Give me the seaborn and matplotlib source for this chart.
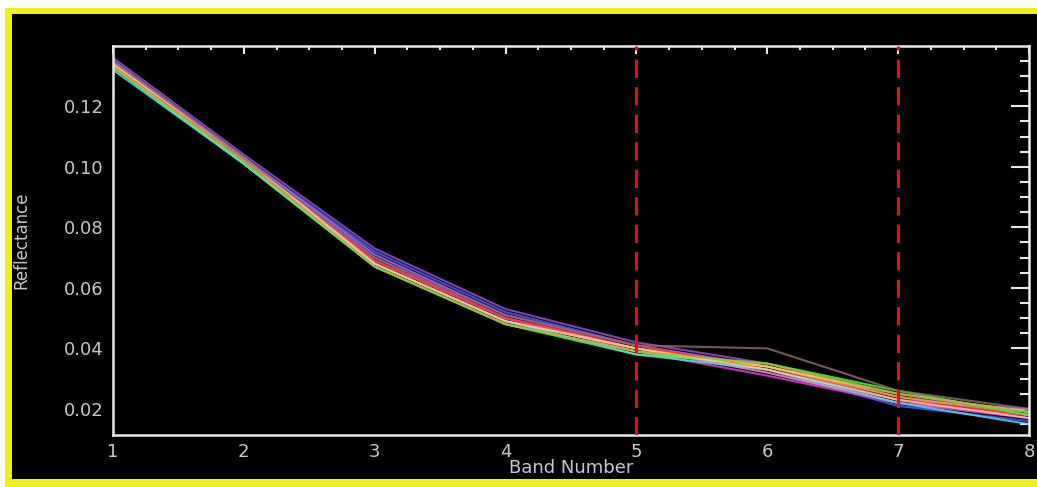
import matplotlib
matplotlib.use("Agg")
import matplotlib.pyplot as plt
from matplotlib.patches import Rectangle
from matplotlib.ticker import MultipleLocator, FormatStrFormatter
import seaborn as sns
import pandas as pd

bands = [1, 2, 3, 4, 5, 6, 7, 8]
s_purple  = [0.136, 0.104, 0.073, 0.053, 0.042, 0.035, 0.024, 0.019]
s_blue    = [0.135, 0.103, 0.072, 0.052, 0.041, 0.033, 0.021, 0.016]
s_violet  = [0.135, 0.103, 0.071, 0.051, 0.041, 0.034, 0.023, 0.020]
s_pink    = [0.134, 0.102, 0.069, 0.050, 0.040, 0.032, 0.022, 0.018]
s_magenta = [0.134, 0.102, 0.070, 0.050, 0.039, 0.031, 0.022, 0.017]
s_orange  = [0.133, 0.102, 0.068, 0.049, 0.040, 0.034, 0.024, 0.018]
s_yellow  = [0.133, 0.101, 0.067, 0.048, 0.039, 0.034, 0.025, 0.019]
s_red     = [0.134, 0.102, 0.069, 0.050, 0.041, 0.033, 0.023, 0.018]
s_green   = [0.133, 0.101, 0.067, 0.048, 0.038, 0.035, 0.026, 0.018]
s_cyan    = [0.132, 0.101, 0.068, 0.049, 0.038, 0.033, 0.022, 0.015]
s_peach   = [0.134, 0.103, 0.068, 0.049, 0.040, 0.033, 0.023, 0.017]
s_olive   = [0.133, 0.102, 0.067, 0.048, 0.039, 0.035, 0.025, 0.019]
s_brown   = [0.135, 0.103, 0.070, 0.051, 0.041, 0.040, 0.026, 0.020]

series = {
    "purple": s_purple, "blue": s_blue, "violet": s_violet, "pink": s_pink,
    "magenta": s_magenta, "orange": s_orange, "yellow": s_yellow, "red": s_red,
    "green": s_green, "cyan": s_cyan, "peach": s_peach, "olive": s_olive,
    "brown": s_brown,
}
colors = {
    "purple": "#9a4fd0", "blue": "#4a5cff", "violet": "#b070ff", "pink": "#ff8fc8",
    "magenta": "#e040e0", "orange": "#ffa040", "yellow": "#e8e040", "red": "#ff3030",
    "green": "#40ff40", "cyan": "#50e0e0", "peach": "#ffc8a0", "olive": "#b0b040",
    "brown": "#8a6a6a",
}
marker_bands = [5, 7]

rows = []
for name, vals in series.items():
    for b, v in zip(bands, vals):
        rows.append({"band": b, "refl": v, "series": name})
df = pd.DataFrame(rows)

sns.set_style("dark")
fig = plt.figure(figsize=(10.37, 4.87), dpi=100)
fig.patch.set_facecolor("white")
# yellow frame (left, top, bottom) and black inner panel
fig.patches.append(Rectangle((5/1037, 0), 1 - 5/1037, 1 - 8/487, transform=fig.transFigure,
                             facecolor="#f0f020", edgecolor="none", zorder=-2))
fig.patches.append(Rectangle((12/1037, 8/487), 1 - 12/1037, 1 - 14/487 - 8/487,
                             transform=fig.transFigure, facecolor="black",
                             edgecolor="none", zorder=-1))

ax = fig.add_axes([113/1037, 1 - 435/487, (1029 - 113)/1037, (435 - 46)/487])
ax.set_facecolor("black")
ax.grid(False)

sns.lineplot(data=df, x="band", y="refl", hue="series", palette=colors,
             linewidth=1.5, alpha=0.85, legend=False, ax=ax, estimator=None)

for b in marker_bands:
    ax.axvline(b, color="#e01010", linestyle=(0, (6, 3)), linewidth=2.2, zorder=5)

ax.set_xlim(1, 8)
ax.set_ylim(0.0114, 0.1399)
ax.xaxis.set_major_locator(MultipleLocator(1))
ax.xaxis.set_minor_locator(MultipleLocator(0.25))
ax.yaxis.set_major_locator(MultipleLocator(0.02))
ax.yaxis.set_minor_locator(MultipleLocator(0.005))
ax.yaxis.set_major_formatter(FormatStrFormatter("%.2f"))

tc = "#c8c8c8"
ax.tick_params(axis="both", which="both", direction="in", colors="#e8e8e8",
               labelcolor=tc, labelsize=13, top=True, right=True)
ax.tick_params(axis="y", which="major", length=13, width=1.5, pad=7)
ax.tick_params(axis="y", which="minor", length=6.5, width=1.5)
ax.tick_params(axis="x", which="major", length=6, width=1.5, pad=6)
ax.tick_params(axis="x", which="minor", length=3, width=1.5)
for sp in ax.spines.values():
    sp.set_color("#e8e8e8")
    sp.set_linewidth(1.8)

ax.set_xlabel("Band Number", color=tc, fontsize=13, labelpad=-2)
ax.set_ylabel("Reflectance", color=tc, fontsize=12, labelpad=24)

fig.savefig("out.png", dpi=100, facecolor=fig.get_facecolor())
